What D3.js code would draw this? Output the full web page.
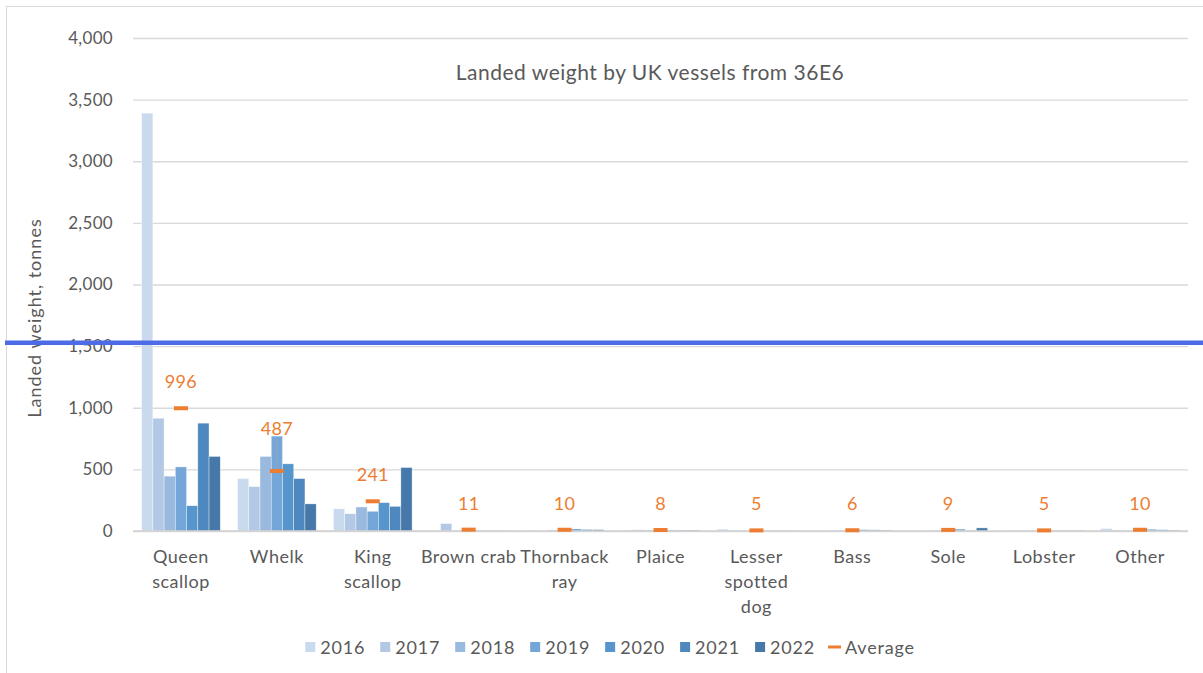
<!DOCTYPE html>
<html>
<head>
<meta charset="utf-8">
<script src="https://cdn.jsdelivr.net/npm/d3@7"></script>
<style>
  body { margin: 0; background: #fff; }
  svg { display: block; font-family: Lato, 'Open Sans', sans-serif; }
</style>
</head>
<body>
<svg id="chart" width="1203" height="673"></svg>
<script>
// data (tonnes)
const categories = ['Queen\nscallop', 'Whelk', 'King\nscallop', 'Brown crab', 'Thornback\nray', 'Plaice',
  'Lesser\nspotted\ndog', 'Bass', 'Sole', 'Lobster', 'Other']
const years = ['2016', '2017', '2018', '2019', '2020', '2021', '2022']
const y2016 = [3390, 425, 180, 2, 6, 8, 15, 1, 1, 6, 20]
const y2017 = [915, 360, 140, 60, 3, 10, 4, 2, 1, 4, 8]
const y2018 = [445, 605, 195, 3, 8, 8, 4, 6, 6, 5, 5]
const y2019 = [520, 770, 160, 4, 14, 8, 4, 6, 10, 5, 6]
const y2020 = [205, 545, 230, 3, 16, 7, 3, 11, 15, 5, 14]
const y2021 = [875, 425, 200, 3, 12, 7, 3, 9, 5, 5, 10]
const y2022 = [605, 220, 515, 2, 11, 8, 2, 7, 25, 5, 7]
const average = [996, 487, 241, 11, 10, 8, 5, 6, 9, 5, 10]
const yTicks = [0, 500, 1000, 1500, 2000, 2500, 3000, 3500, 4000]

const series = [y2016, y2017, y2018, y2019, y2020, y2021, y2022]
const colors = ['#c9d9ee', '#b3c8e5', '#9ab9df', '#74a6d9', '#5696cd', '#4e88bf', '#4679a9']
const textColor = '#595959'
const avgColor = '#ed7d31'

const width = 1203
const height = 673
const margin = { top: 38, right: 15, bottom: 142, left: 133 }
const plotRight = 1188

const svg = d3.select('#chart')

// outer chart frame
svg.append('rect')
  .attr('x', 6.5).attr('y', 6.5)
  .attr('width', width + 10).attr('height', height + 10)
  .attr('fill', '#fff')
  .attr('stroke', '#d9d9d9')

const x = d3.scaleBand()
  .domain(d3.range(categories.length))
  .range([margin.left, plotRight])
  .paddingInner(0.18)
  .paddingOuter(0.09)

const xYear = d3.scaleBand()
  .domain(years)
  .range([0, x.bandwidth()])

const y = d3.scaleLinear()
  .domain([0, 4000])
  .range([531, margin.top])

// gridlines + tick labels
const yAxis = svg.append('g')
  .attr('transform', `translate(${margin.left},0)`)
  .call(d3.axisLeft(y).tickValues(yTicks).tickFormat(d3.format(',')).tickSize(-(plotRight - margin.left)).tickPadding(20))
yAxis.select('.domain').remove()
yAxis.selectAll('.tick line').attr('stroke', '#d9d9d9').attr('stroke-width', 1.3)
yAxis.selectAll('.tick text')
  .attr('fill', textColor)
  .style('font-size', '17px')
  .style('font-family', 'Lato, sans-serif')
  .style('letter-spacing', '0.3px')

// bars
const groups = svg.append('g')
  .selectAll('g')
  .data(categories)
  .join('g')
  .attr('transform', (d, i) => `translate(${x(i)},0)`)

groups.selectAll('rect')
  .data((d, i) => series.map((s, k) => ({ year: years[k], value: s[i], k })))
  .join('rect')
  .attr('x', (d) => xYear(d.year))
  .attr('y', (d) => y(d.value))
  .attr('width', xYear.bandwidth())
  .attr('height', (d) => y(0) - y(d.value))
  .attr('fill', (d) => colors[d.k])
  .attr('stroke', 'rgba(255,255,255,0.6)')
  .attr('stroke-width', 0.6)

// category axis line
svg.append('line')
  .attr('x1', margin.left).attr('x2', plotRight)
  .attr('y1', y(0)).attr('y2', y(0))
  .attr('stroke', '#d0d0d0')
  .attr('stroke-width', 1.3)

// category labels
const catLabels = svg.append('g')
  .selectAll('text')
  .data(categories)
  .join('text')
  .attr('x', (d, i) => x(i) + x.bandwidth() / 2)
  .attr('y', 563)
  .attr('text-anchor', 'middle')
  .attr('fill', textColor)
  .style('font-size', '18px')
  .style('letter-spacing', '0.5px')
catLabels.selectAll('tspan')
  .data((d) => d.split('\n'))
  .join('tspan')
  .attr('x', function () { return this.parentNode.getAttribute('x') })
  .attr('dy', (d, i) => (i === 0 ? 0 : 25))
  .text((d) => d)

// average markers and labels
const labelNudge = { 1: -16 } // Whelk label sits above its bars, with a leader line
const avg = svg.append('g')
avg.selectAll('line.lead')
  .data(average.map((v, i) => ({ v, i })).filter((d) => labelNudge[d.i]))
  .join('line')
  .attr('class', 'lead')
  .attr('x1', (d) => x(d.i) + x.bandwidth() / 2)
  .attr('x2', (d) => x(d.i) + x.bandwidth() / 2)
  .attr('y1', (d) => y(d.v) - 20 + labelNudge[d.i] + 4)
  .attr('y2', (d) => y(d.v))
  .attr('stroke', '#a6a6a6')
  .attr('stroke-width', 0.8)
avg.selectAll('rect')
  .data(average)
  .join('rect')
  .attr('x', (d, i) => x(i) + x.bandwidth() / 2 - 7)
  .attr('y', (d) => y(d) - 2)
  .attr('width', 14)
  .attr('height', 4)
  .attr('fill', avgColor)
avg.selectAll('text')
  .data(average)
  .join('text')
  .attr('x', (d, i) => x(i) + x.bandwidth() / 2)
  .attr('y', (d, i) => y(d) - 20 + (labelNudge[i] || 0))
  .attr('text-anchor', 'middle')
  .attr('fill', avgColor)
  .style('font-size', '18px')
  .style('letter-spacing', '0.3px')
  .text((d) => d)

// title
svg.append('text')
  .attr('x', 650).attr('y', 80)
  .attr('text-anchor', 'middle')
  .attr('fill', textColor)
  .style('font-size', '21px')
  .style('letter-spacing', '0.5px')
  .text('Landed weight by UK vessels from 36E6')

// y axis title
svg.append('text')
  .attr('transform', 'translate(41,318) rotate(-90)')
  .attr('text-anchor', 'middle')
  .attr('fill', textColor)
  .style('font-size', '18px')
  .style('letter-spacing', '1px')
  .text('Landed weight, tonnes')

// legend
const legend = svg.append('g').attr('transform', 'translate(0,647)')
const items = years.map((yr, k) => ({ label: yr, color: colors[k], type: 'bar' }))
items.push({ label: 'Average', color: avgColor, type: 'line' })
const itemGap = 15
let lx = 0
const legendItems = legend.selectAll('g')
  .data(items)
  .join('g')
legendItems.append('text')
  .attr('x', 15)
  .attr('y', 6.5)
  .attr('fill', textColor)
  .style('font-size', '18px')
  .style('letter-spacing', '0.8px')
  .text((d) => d.label)
legendItems.each(function (d) {
  const g = d3.select(this)
  if (d.type === 'bar') {
    g.insert('rect', 'text').attr('x', 0).attr('y', -5).attr('width', 10).attr('height', 10).attr('fill', d.color)
  } else {
    g.insert('rect', 'text').attr('x', -2).attr('y', -1.5).attr('width', 13).attr('height', 3).attr('fill', d.color)
  }
  const w = g.select('text').node().getComputedTextLength()
  g.attr('transform', `translate(${lx},0)`)
  lx += 15 + w + itemGap
})
legend.attr('transform', `translate(${610 - (lx - itemGap) / 2},647)`)

// horizontal blue rule across the picture
svg.append('rect')
  .attr('x', 5).attr('y', 340.5)
  .attr('width', width - 5).attr('height', 4.5)
  .attr('fill', '#4e6be7')
</script>
</body>
</html>
